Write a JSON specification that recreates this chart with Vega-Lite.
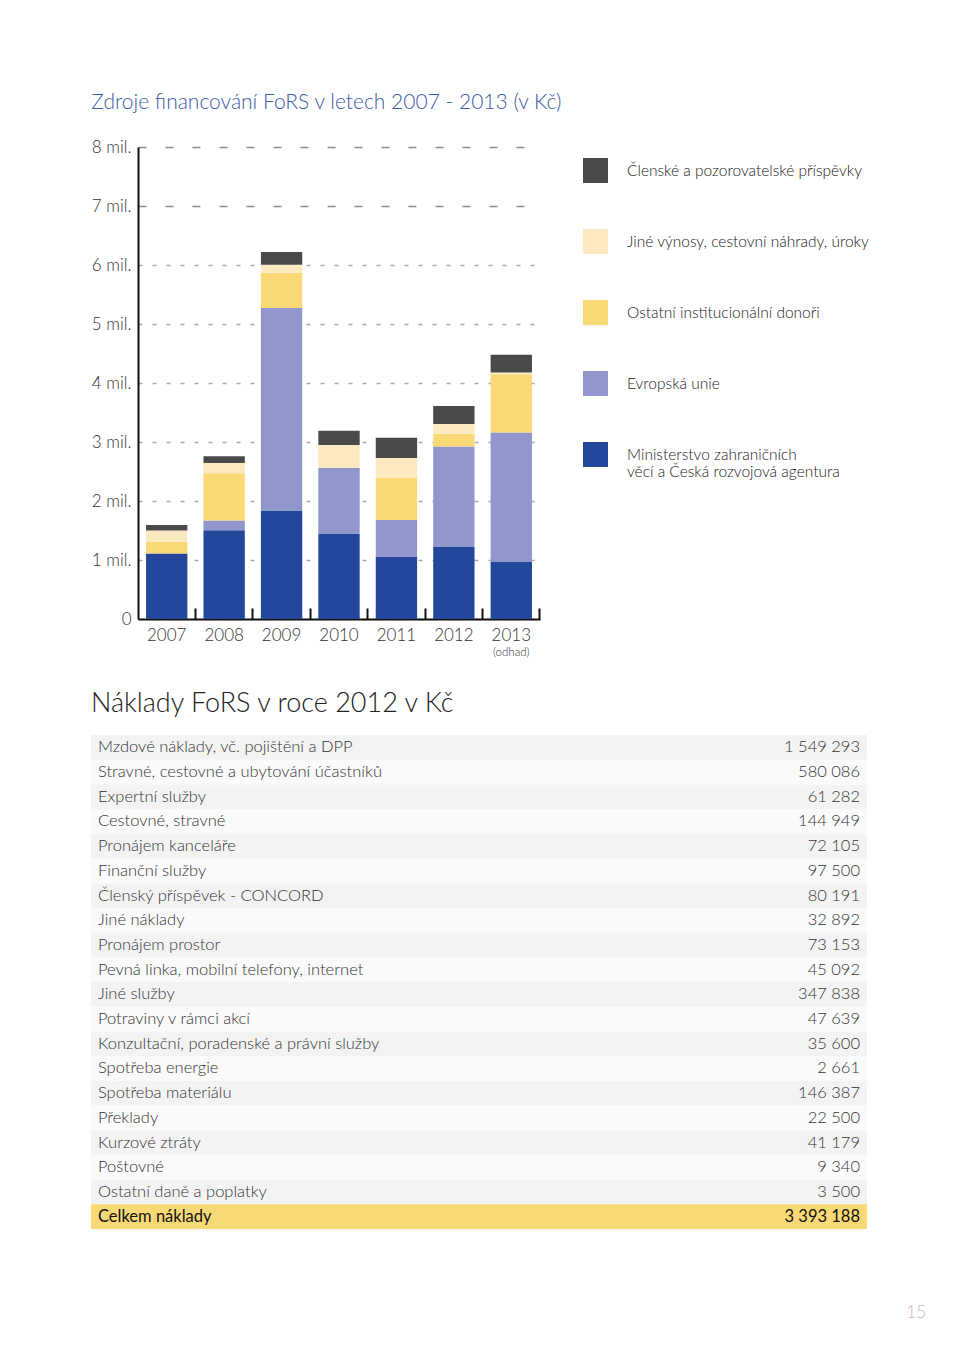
{
  "$schema": "https://vega.github.io/schema/vega-lite/v6.json",
  "background": "white",
  "padding": {"left": 90, "top": 92, "right": 0, "bottom": 0},
  "spacing": 31,
  "resolve": {"scale": {"color": "independent"}, "legend": {"color": "independent"}},
  "title": {"text": "15", "orient": "bottom", "anchor": "end", "dx": 45, "offset": 76, "fontSize": 17, "fontWeight": 300, "color": "#bdbdbd"},
  "config": {
    "font": "Lato",
    "view": {"stroke": null},
    "locale": {"number": {"decimal": ",", "thousands": " ", "grouping": [3], "currency": ["", " Kč"]}},
    "title": {"font": "Lato", "fontWeight": 300, "anchor": "start"}
  },
  "datasets": {
    "funding": [
      {"year": "2007", "source": "Ministerstvo zahraničních věcí a Česká rozvojová agentura", "value": 1110000},
      {"year": "2007", "source": "Evropská unie", "value": 0},
      {"year": "2007", "source": "Ostatní institucionální donoři", "value": 200000},
      {"year": "2007", "source": "Jiné výnosy, cestovní náhrady, úroky", "value": 190000},
      {"year": "2007", "source": "Členské a pozorovatelské příspěvky", "value": 95000},
      {"year": "2008", "source": "Ministerstvo zahraničních věcí a Česká rozvojová agentura", "value": 1505000},
      {"year": "2008", "source": "Evropská unie", "value": 165000},
      {"year": "2008", "source": "Ostatní institucionální donoři", "value": 800000},
      {"year": "2008", "source": "Jiné výnosy, cestovní náhrady, úroky", "value": 175000},
      {"year": "2008", "source": "Členské a pozorovatelské příspěvky", "value": 115000},
      {"year": "2009", "source": "Ministerstvo zahraničních věcí a Česká rozvojová agentura", "value": 1840000},
      {"year": "2009", "source": "Evropská unie", "value": 3430000},
      {"year": "2009", "source": "Ostatní institucionální donoři", "value": 600000},
      {"year": "2009", "source": "Jiné výnosy, cestovní náhrady, úroky", "value": 135000},
      {"year": "2009", "source": "Členské a pozorovatelské příspěvky", "value": 215000},
      {"year": "2010", "source": "Ministerstvo zahraničních věcí a Česká rozvojová agentura", "value": 1450000},
      {"year": "2010", "source": "Evropská unie", "value": 1115000},
      {"year": "2010", "source": "Ostatní institucionální donoři", "value": 0},
      {"year": "2010", "source": "Jiné výnosy, cestovní náhrady, úroky", "value": 385000},
      {"year": "2010", "source": "Členské a pozorovatelské příspěvky", "value": 240000},
      {"year": "2011", "source": "Ministerstvo zahraničních věcí a Česká rozvojová agentura", "value": 1050000},
      {"year": "2011", "source": "Evropská unie", "value": 630000},
      {"year": "2011", "source": "Ostatní institucionální donoři", "value": 720000},
      {"year": "2011", "source": "Jiné výnosy, cestovní náhrady, úroky", "value": 330000},
      {"year": "2011", "source": "Členské a pozorovatelské příspěvky", "value": 340000},
      {"year": "2012", "source": "Ministerstvo zahraničních věcí a Česká rozvojová agentura", "value": 1220000},
      {"year": "2012", "source": "Evropská unie", "value": 1705000},
      {"year": "2012", "source": "Ostatní institucionální donoři", "value": 215000},
      {"year": "2012", "source": "Jiné výnosy, cestovní náhrady, úroky", "value": 165000},
      {"year": "2012", "source": "Členské a pozorovatelské příspěvky", "value": 305000},
      {"year": "2013", "source": "Ministerstvo zahraničních věcí a Česká rozvojová agentura", "value": 965000},
      {"year": "2013", "source": "Evropská unie", "value": 2195000},
      {"year": "2013", "source": "Ostatní institucionální donoři", "value": 990000},
      {"year": "2013", "source": "Jiné výnosy, cestovní náhrady, úroky", "value": 30000},
      {"year": "2013", "source": "Členské a pozorovatelské příspěvky", "value": 300000}
    ],
    "notes": [
      {"year": "2013", "note": "(odhad)"}
    ],
    "costs": [
      {"item": "Mzdové náklady, vč. pojištění a DPP", "value": 1549293},
      {"item": "Stravné, cestovné a ubytování účastníků", "value": 580086},
      {"item": "Expertní služby", "value": 61282},
      {"item": "Cestovné, stravné", "value": 144949},
      {"item": "Pronájem kanceláře", "value": 72105},
      {"item": "Finanční služby", "value": 97500},
      {"item": "Členský příspěvek - CONCORD", "value": 80191},
      {"item": "Jiné náklady", "value": 32892},
      {"item": "Pronájem prostor", "value": 73153},
      {"item": "Pevná linka, mobilní telefony, internet", "value": 45092},
      {"item": "Jiné služby", "value": 347838},
      {"item": "Potraviny v rámci akcí", "value": 47639},
      {"item": "Konzultační, poradenské a právní služby", "value": 35600},
      {"item": "Spotřeba energie", "value": 2661},
      {"item": "Spotřeba materiálu", "value": 146387},
      {"item": "Překlady", "value": 22500},
      {"item": "Kurzové ztráty", "value": 41179},
      {"item": "Poštovné", "value": 9340},
      {"item": "Ostatní daně a poplatky", "value": 3500},
      {"item": "Celkem náklady", "value": 3393188}
    ]
  },
  "vconcat": [
    {
      "width": 402,
      "height": 472,
      "title": {"text": "Zdroje financování FoRS v letech 2007 - 2013 (v Kč)", "fontSize": 21, "color": "#3d5ca6", "offset": 25},
      "layer": [
        {
          "data": {"name": "funding"},
          "transform": [
            {"calculate": "indexof(['Ministerstvo zahraničních věcí a Česká rozvojová agentura', 'Evropská unie', 'Ostatní institucionální donoři', 'Jiné výnosy, cestovní náhrady, úroky', 'Členské a pozorovatelské příspěvky'], datum.source)", "as": "stackOrder"}
          ],
          "mark": {"type": "bar"},
          "encoding": {
            "x": {
              "field": "year", "type": "ordinal", "title": null,
              "scale": {"paddingInner": 0.28, "paddingOuter": 0.14},
              "axis": {
                "labelAngle": 0, "labelFontSize": 17, "labelFontWeight": 300, "labelColor": "#333",
                "domainColor": "#111", "domainWidth": 2,
                "ticks": true, "tickColor": "#111", "tickWidth": 2, "tickSize": -11,
                "bandPosition": 1.1944, "labelPadding": 19.5
              }
            },
            "y": {
              "field": "value", "type": "quantitative", "stack": "zero", "title": null,
              "scale": {"domain": [0, 8000000], "nice": false},
              "axis": {
                "values": [0, 1000000, 2000000, 3000000, 4000000, 5000000, 6000000, 7000000, 8000000],
                "labelExpr": "datum.value == 0 ? '0' : format(datum.value / 1000000, 'd') + ' mil.'",
                "labelFontSize": 17, "labelFontWeight": 300, "labelColor": "#333", "labelPadding": 7,
                "labelFlush": false,
                "ticks": false, "domainColor": "#111", "domainWidth": 2,
                "grid": true, "gridWidth": 1.5,
                "gridColor": {"condition": {"test": "datum.value >= 7000000", "value": "#8a8a8a"}, "value": "#a8a8a8"},
                "gridDash": {"condition": {"test": "datum.value >= 7000000", "value": [8, 19]}, "value": [4, 10]}
              }
            },
            "color": {
              "field": "source", "type": "nominal",
              "scale": {
                "domain": ["Členské a pozorovatelské příspěvky", "Jiné výnosy, cestovní náhrady, úroky", "Ostatní institucionální donoři", "Evropská unie", "Ministerstvo zahraničních věcí a Česká rozvojová agentura"],
                "range": ["#4a4a4a", "#fce9c0", "#f9d976", "#9197cc", "#23479a"]
              },
              "legend": {
                "title": null, "orient": "right", "offset": 32, "padding": 11,
                "symbolType": "square", "symbolSize": 625, "symbolStrokeWidth": 0, "symbolOpacity": 1,
                "labelFontSize": 15.5, "labelFontWeight": 300, "labelColor": "#222", "labelOffset": 19,
                "labelLimit": 320, "rowPadding": 46,
                "labelExpr": "datum.label == 'Ministerstvo zahraničních věcí a Česká rozvojová agentura' ? ['Ministerstvo zahraničních', 'věcí a Česká rozvojová agentura'] : datum.label"
              }
            },
            "order": {"field": "stackOrder", "type": "quantitative", "sort": "ascending"}
          }
        },
        {
          "data": {"name": "notes"},
          "mark": {"type": "text", "fontSize": 11.5, "fontWeight": 300, "color": "#333", "baseline": "top", "dy": 28},
          "encoding": {
            "x": {"field": "year", "type": "ordinal"},
            "y": {"datum": 0, "type": "quantitative"},
            "text": {"field": "note"}
          }
        }
      ]
    },
    {
      "width": 729,
      "height": 494,
      "title": {"text": "Náklady FoRS v roce 2012 v Kč", "fontSize": 27, "color": "#222", "offset": 17},
      "data": {"name": "costs"},
      "transform": [{"window": [{"op": "row_number", "as": "rn"}]}],
      "encoding": {
        "y": {"field": "item", "type": "nominal", "sort": null, "axis": null, "scale": {"paddingInner": 0, "paddingOuter": 0}}
      },
      "layer": [
        {
          "mark": {"type": "rect"},
          "encoding": {
            "x": {"datum": 0, "type": "quantitative", "scale": {"domain": [0.06057, 1], "nice": false, "zero": false}, "axis": null},
            "x2": {"datum": 1},
            "fill": {
              "condition": [
                {"test": "datum.item == 'Celkem náklady'", "value": "#f9d976"},
                {"test": "datum.rn % 2 == 1", "value": "#f3f3f3"}
              ],
              "value": "#fafafa"
            }
          }
        },
        {
          "transform": [{"filter": "datum.item != 'Celkem náklady'"}],
          "mark": {"type": "text", "align": "left", "dx": 7, "fontSize": 16.5, "fontWeight": 300, "color": "#333"},
          "encoding": {
            "x": {"datum": 0, "type": "quantitative"},
            "text": {"field": "item"}
          }
        },
        {
          "transform": [{"filter": "datum.item != 'Celkem náklady'"}],
          "mark": {"type": "text", "align": "right", "dx": -7, "fontSize": 16.5, "fontWeight": 300, "color": "#333"},
          "encoding": {
            "x": {"datum": 1, "type": "quantitative"},
            "text": {"field": "value", "type": "quantitative", "format": ",d"}
          }
        },
        {
          "transform": [{"filter": "datum.item == 'Celkem náklady'"}],
          "mark": {"type": "text", "align": "left", "dx": 7, "fontSize": 16.5, "fontWeight": 400, "color": "#111"},
          "encoding": {
            "x": {"datum": 0, "type": "quantitative"},
            "text": {"field": "item"}
          }
        },
        {
          "transform": [{"filter": "datum.item == 'Celkem náklady'"}],
          "mark": {"type": "text", "align": "right", "dx": -7, "fontSize": 16.5, "fontWeight": 400, "color": "#111"},
          "encoding": {
            "x": {"datum": 1, "type": "quantitative"},
            "text": {"field": "value", "type": "quantitative", "format": ",d"}
          }
        }
      ]
    }
  ]
}
